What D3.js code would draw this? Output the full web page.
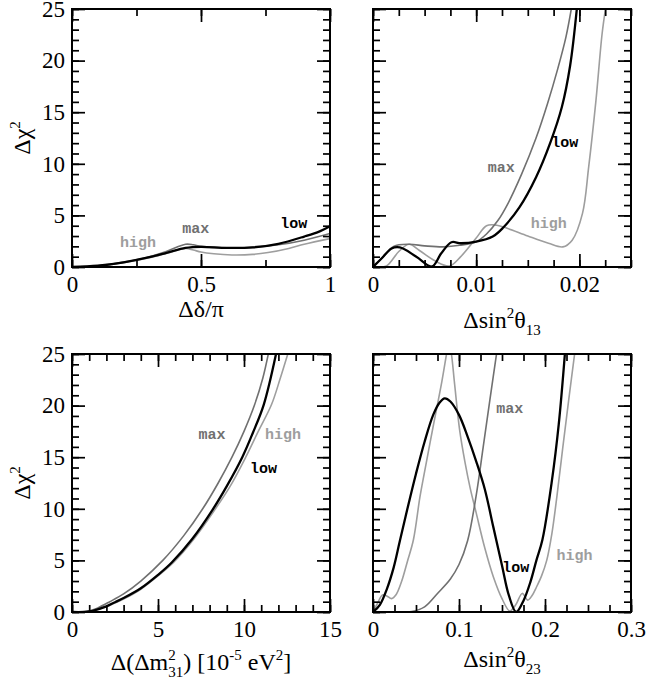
<!DOCTYPE html>
<html>
<head>
<meta charset="utf-8">
<script src="https://cdn.jsdelivr.net/npm/d3@7"></script>
<style>
  body { margin: 0; background: #fff; }
  svg { display: block; }
</style>
</head>
<body>
<div id="chart"></div>
<script>
// curves: [x, delta chi^2]
const deltaLow = [[0,0],[0.1,0.12],[0.2,0.45],[0.3,0.95],[0.37,1.4],[0.44,1.85],[0.5,1.95],[0.6,1.85],[0.7,1.9],[0.8,2.25],[0.9,2.95],[0.96,3.45],[1,3.95]];
const deltaMax = [[0,0],[0.1,0.12],[0.2,0.47],[0.3,1.0],[0.37,1.55],[0.44,2.2],[0.47,2.15],[0.5,2.0],[0.6,1.85],[0.7,1.9],[0.8,2.15],[0.9,2.6],[1,3.25]];
const deltaHigh = [[0,0],[0.1,0.1],[0.2,0.42],[0.3,0.9],[0.37,1.35],[0.44,1.8],[0.47,1.65],[0.5,1.45],[0.55,1.28],[0.62,1.17],[0.7,1.22],[0.76,1.4],[0.84,1.8],[0.9,2.2],[1,2.75]];

const s13Low = [[0,0],[0.0009,0.9],[0.0018,1.8],[0.0026,1.9],[0.0042,1.0],[0.0057,0.05],[0.0066,1.3],[0.0076,2.4],[0.0085,2.3],[0.01,2.45],[0.0116,2.95],[0.0126,3.8],[0.0142,5.8],[0.0158,8.7],[0.0172,12.1],[0.0183,15.5],[0.0191,19.5],[0.0198,25.5]];
const s13Max = [[0,0],[0.001,1.0],[0.002,2.0],[0.0035,2.2],[0.005,2.05],[0.0068,1.95],[0.0084,2.1],[0.01,2.45],[0.011,3.2],[0.0121,4.5],[0.0131,6.2],[0.0144,9.0],[0.0158,12.5],[0.0169,15.8],[0.0179,19.2],[0.0187,22.3],[0.0193,25.5]];
const s13High = [[0,0],[0.0013,0.1],[0.0025,1.5],[0.0035,2.2],[0.0045,1.6],[0.006,0.6],[0.0074,0.1],[0.0085,1.0],[0.01,2.8],[0.011,4.0],[0.012,4.05],[0.013,3.75],[0.015,3.0],[0.017,2.3],[0.0184,1.95],[0.0193,2.6],[0.0203,5.2],[0.0209,9.7],[0.0216,16.1],[0.0222,22.6],[0.0226,25.5]];

const dm31Low = [[0,0],[1,0.05],[2,0.55],[2.5,0.95],[3,1.35],[4,2.3],[5,3.6],[5.8,4.8],[7,7.1],[8.17,9.9],[9,12.2],[9.9,15],[10.5,17.3],[11.15,20.1],[11.9,25.3]];
const dm31Max = [[0,0],[1,0.1],[1.5,0.4],[2.2,1],[3,1.75],[4,3.0],[5.28,5],[6.5,7.4],[7.6,10],[8.5,12.5],[9.3,15],[10,17.5],[10.6,20],[11.1,22.7],[11.45,25.3]];
const dm31High = [[0,0],[1,0.04],[2,0.5],[2.6,0.95],[3,1.25],[4,2.2],[5,3.5],[5.9,4.8],[7.1,7.1],[8.3,9.9],[9.2,12.2],[10.1,15],[10.8,17.4],[11.6,20.1],[12.1,22.6],[12.6,25.3]];

const s23Low = [[0,0],[0.008,0.7],[0.016,2.2],[0.024,4.3],[0.031,6.8],[0.04,10],[0.05,13.4],[0.06,16.5],[0.07,19.1],[0.0775,20.3],[0.0834,20.7],[0.09,20.4],[0.1,19.1],[0.11,17.0],[0.12,14.6],[0.13,11.9],[0.14,8.2],[0.15,4.5],[0.158,1.6],[0.1665,0],[0.175,1.1],[0.183,2.9],[0.19,5],[0.197,7],[0.208,12.7],[0.216,18.2],[0.2236,25.5]];
const s23Max = [[0,0],[0.02,0],[0.045,0.05],[0.06,0.5],[0.075,1.8],[0.09,3.2],[0.1,4.6],[0.11,6.9],[0.12,11.3],[0.128,15.9],[0.136,20.6],[0.1445,25.5]];
const s23High = [[0,0],[0.005,0.8],[0.011,1.65],[0.016,1.55],[0.0216,1.3],[0.027,1.7],[0.033,2.9],[0.04,4.9],[0.047,7.0],[0.0545,11.1],[0.06,13.6],[0.07,18.0],[0.08,22.3],[0.0855,25],[0.0883,26.3],[0.0912,25],[0.095,22],[0.1008,17.6],[0.107,14.5],[0.113,12.0],[0.12,9.6],[0.13,6.2],[0.14,3.4],[0.15,1.3],[0.159,0.1],[0.166,0.7],[0.1735,1.8],[0.18,1.15],[0.185,1.6],[0.19,2.4],[0.196,3.5],[0.202,5.0],[0.208,7.6],[0.214,11.3],[0.2205,15.8],[0.2275,20.5],[0.2352,25.5]];

// tick labels
const yTicks = [0, 5, 10, 15, 20, 25];
const deltaTicks = [0, 0.5, 1];
const s13Ticks = [0, 0.01, 0.02];
const dm31Ticks = [0, 5, 10, 15];
const s23Ticks = [0, 0.1, 0.2, 0.3];

// curve labels [text, x, y]
const deltaLabels = [["high", 0.256, 1.9], ["max", 0.48, 3.3], ["low", 0.86, 3.75]];
const s13Labels = [["low", 0.01858, 11.6], ["max", 0.01242, 9.2], ["high", 0.01704, 3.8]];
const dm31Labels = [["max", 8.14, 16.8], ["high", 12.27, 16.8], ["low", 11.13, 13.5]];
const s23Labels = [["max", 0.159, 19.3], ["low", 0.166, 3.9], ["high", 0.2344, 5.0]];

var serif = "Liberation Serif";
var mono = "Liberation Mono";
var colors = {low: "#000", max: "#707070", high: "#9e9e9e"};
var widths = {low: 2.3, max: 1.6, high: 1.6};
var pw = 258, ph = 258;

var svg = d3.select("#chart").append("svg")
    .attr("width", 646)
    .attr("height", 683);

var panels = [
  {id: "a", left: 72, top: 9, domain: [0, 1], ticks: deltaTicks, step: 0.25, yLab: true,
   series: {high: deltaHigh, max: deltaMax, low: deltaLow}, labels: deltaLabels},
  {id: "b", left: 373, top: 9, domain: [0, 0.025], ticks: s13Ticks, step: 0.0025, yLab: false,
   series: {high: s13High, max: s13Max, low: s13Low}, labels: s13Labels},
  {id: "c", left: 72, top: 354, domain: [0, 15], ticks: dm31Ticks, step: 1, yLab: true,
   series: {high: dm31High, max: dm31Max, low: dm31Low}, labels: dm31Labels},
  {id: "d", left: 373, top: 354, domain: [0, 0.3], ticks: s23Ticks, step: 0.025, yLab: false,
   series: {high: s23High, max: s23Max, low: s23Low}, labels: s23Labels}
];

function addAxis(g, gen, values, size, labelled, pad, transform) {
  var a = g.append("g")
      .attr("transform", transform || null)
      .call(gen.tickValues(values).tickSize(-size).tickPadding(pad)
        .tickFormat(labelled ? (d => String(d)) : ""));
  a.select(".domain").remove();
  a.selectAll("line").attr("stroke", "#000").attr("stroke-width", 1.7);
  a.attr("font-family", serif).attr("font-size", 23);
  a.selectAll("text")
    .style("font-family", serif)
    .style("font-size", "23px")
    .attr("fill", "#000");
  return a;
}

panels.forEach(p => {
  var g = svg.append("g").attr("transform", `translate(${p.left},${p.top})`);
  var x = d3.scaleLinear().domain(p.domain).range([0, pw]);
  var y = d3.scaleLinear().domain([0, 25]).range([ph, 0]);

  g.append("clipPath").attr("id", "clip-" + p.id)
    .append("rect").attr("width", pw).attr("height", ph);

  var line = d3.line()
      .x(d => x(d[0]))
      .y(d => y(d[1]))
      .curve(d3.curveCatmullRom.alpha(0.5));

  Object.keys(p.series).forEach(k => {
    g.append("path")
      .datum(p.series[k])
      .attr("clip-path", `url(#clip-${p.id})`)
      .attr("fill", "none")
      .attr("stroke", colors[k])
      .attr("stroke-width", widths[k])
      .attr("stroke-linejoin", "round")
      .attr("d", line);
  });

  var minorX = d3.range(p.domain[0], p.domain[1] + p.step / 2, p.step);
  var minorY = d3.range(0, 25.5, 1);

  addAxis(g, d3.axisBottom(x), p.ticks, 13, true, 9, `translate(0,${ph})`);
  addAxis(g, d3.axisBottom(x), minorX, 7, false, 0, `translate(0,${ph})`);
  addAxis(g, d3.axisTop(x), p.ticks, 13, false, 0);
  addAxis(g, d3.axisTop(x), minorX, 7, false, 0);
  addAxis(g, d3.axisLeft(y), yTicks, 13, p.yLab, 7);
  addAxis(g, d3.axisLeft(y), minorY, 7, false, 0);
  addAxis(g, d3.axisRight(y), yTicks, 13, false, 0, `translate(${pw},0)`);
  addAxis(g, d3.axisRight(y), minorY, 7, false, 0, `translate(${pw},0)`);

  g.append("rect")
    .attr("width", pw).attr("height", ph)
    .attr("fill", "none").attr("stroke", "#000").attr("stroke-width", 2);

  g.selectAll(".clabel")
    .data(p.labels)
    .join("text")
      .attr("class", "clabel")
      .attr("x", d => x(d[1]))
      .attr("y", d => y(d[2]))
      .attr("text-anchor", "middle")
      .style("font-family", mono)
      .style("font-weight", "bold")
      .style("font-size", "15px")
      .attr("fill", d => colors[d[0]])
      .text(d => d[0]);

  if (p.yLab) {
    var t = svg.append("text")
        .attr("transform", `translate(30,${p.top + ph / 2}) rotate(-90)`)
        .attr("text-anchor", "middle")
        .style("font-family", serif)
        .style("font-size", "24px");
    t.append("tspan").text("Δχ");
    t.append("tspan").attr("dy", -10).style("font-size", "15px").text("2");
  }
});

// x axis titles
function title(cx, baseline) {
  return svg.append("text")
      .attr("x", cx).attr("y", baseline)
      .attr("text-anchor", "middle")
      .style("font-family", serif)
      .style("font-size", "24px");
}

title(72 + pw / 2, 317).text("Δδ/π");

var tb = title(373 + pw / 2, 328);
tb.append("tspan").text("Δsin");
tb.append("tspan").attr("dy", -10).style("font-size", "15px").text("2");
tb.append("tspan").attr("dy", 10).text("θ");
tb.append("tspan").attr("dy", 7).style("font-size", "15px").text("13");

var tc = title(72 + pw / 2, 670);
tc.append("tspan").text("Δ(Δm");
tc.append("tspan").attr("dy", -10).style("font-size", "15px").text("2");
tc.append("tspan").attr("dy", 17).attr("dx", -7.5).style("font-size", "15px").text("31");
tc.append("tspan").attr("dy", -7).text(") [10");
tc.append("tspan").attr("dy", -10).style("font-size", "15px").text("-5");
tc.append("tspan").attr("dy", 10).text(" eV");
tc.append("tspan").attr("dy", -10).style("font-size", "15px").text("2");
tc.append("tspan").attr("dy", 10).text("]");

var td = title(373 + pw / 2, 667);
td.append("tspan").text("Δsin");
td.append("tspan").attr("dy", -10).style("font-size", "15px").text("2");
td.append("tspan").attr("dy", 10).text("θ");
td.append("tspan").attr("dy", 7).style("font-size", "15px").text("23");
</script>
</body>
</html>
